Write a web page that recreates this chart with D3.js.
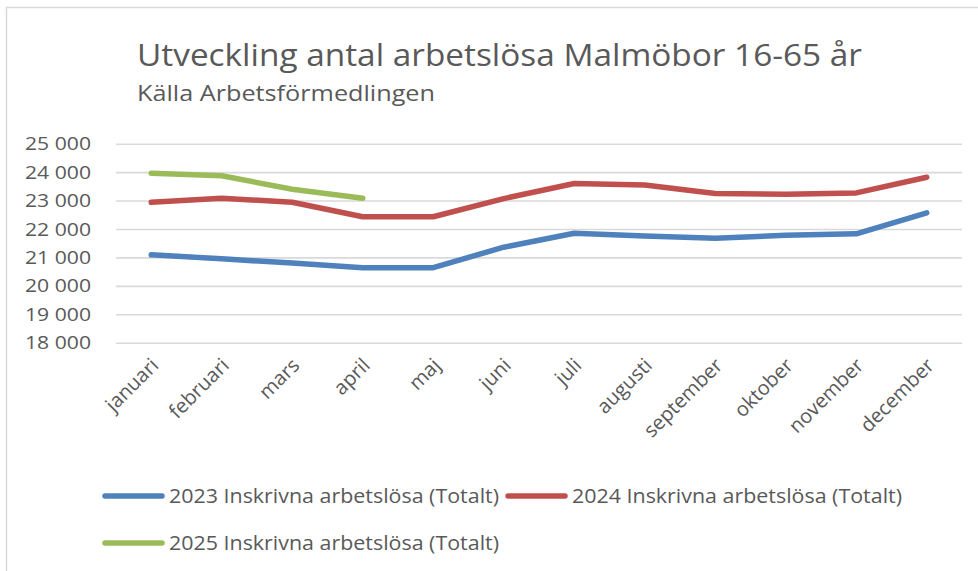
<!DOCTYPE html>
<html><head><meta charset="utf-8">
<script src="https://cdn.jsdelivr.net/npm/d3@7"></script>
<style>
html,body{margin:0;padding:0;background:#fff;}
svg{display:block;}
text{font-family:"Open Sans",sans-serif;fill:#595959;}
</style></head>
<body>
<svg id="c" width="978" height="571"></svg>
<script>
const months = ["januari","februari","mars","april","maj","juni","juli","augusti","september","oktober","november","december"];
const s2023 = [21090,20950,20800,20640,20640,21360,21850,21750,21670,21780,21830,22570];
const s2024 = [22940,23080,22940,22430,22430,23070,23600,23550,23250,23220,23270,23820];
const s2025 = [23960,23870,23400,23080];
const seriesNames = ["2023 Inskrivna arbetslösa (Totalt)","2024 Inskrivna arbetslösa (Totalt)","2025 Inskrivna arbetslösa (Totalt)"];
const seriesColors = ["#4F81BD","#C0504D","#9BBB59"];
const yTicks = [18000,19000,20000,21000,22000,23000,24000,25000];
const title = "Utveckling antal arbetslösa Malmöbor 16-65 år";
const subtitle = "Källa Arbetsförmedlingen";

const svg = d3.select("#c");
svg.append("path").attr("d","M6.5,571 V7.5 H978").attr("fill","none").attr("stroke","#D9D9D9").attr("stroke-width",1.5);

function fit(sel, w){ sel.attr("textLength", w).attr("lengthAdjust","spacingAndGlyphs"); }

fit(svg.append("text").attr("x",137).attr("y",66).attr("font-size",31).text(title), 725);
fit(svg.append("text").attr("x",137).attr("y",101).attr("font-size",21).text(subtitle), 298);

const x = d3.scalePoint().domain(months).range([116,962]).padding(0.5);
const y = d3.scaleLinear().domain([18000,25000]).range([342.7,143.7]);

const yAxis = svg.append("g").attr("transform","translate(116,0)")
  .call(d3.axisLeft(y).tickValues(yTicks).tickSize(-846).tickFormat(d => d3.format(",")(d).replace(","," ")).tickPadding(25));
yAxis.select(".domain").remove();
yAxis.selectAll(".tick line").attr("stroke","#D9D9D9").attr("stroke-width",1.6);
yAxis.selectAll(".tick text").attr("font-size",19).attr("fill","#595959")
  .style("font-family",'"Open Sans",sans-serif')
  .attr("textLength",66).attr("lengthAdjust","spacingAndGlyphs");

const xAxis = svg.append("g").attr("transform","translate(0,342.7)")
  .call(d3.axisBottom(x).tickSize(0));
xAxis.select(".domain").remove();
xAxis.selectAll(".tick text")
  .attr("font-size",20).attr("fill","#595959")
  .style("font-family",'"Open Sans",sans-serif')
  .attr("text-anchor","end")
  .attr("dy",null).attr("y",0)
  .attr("transform","translate(8,24) rotate(-45)");

const line = d3.line().x((d,i)=>x(months[i])).y(d=>y(d));
[s2023,s2024,s2025].forEach((s,k)=>{
  svg.append("path").datum(s).attr("d",line).attr("fill","none")
    .attr("stroke",seriesColors[k]).attr("stroke-width",5.5)
    .attr("stroke-linejoin","round").attr("stroke-linecap","round");
});

const legendPos = [[105,496],[508,496],[105,543]];
seriesNames.forEach((n,k)=>{
  const [lx,ly] = legendPos[k];
  svg.append("line").attr("x1",lx).attr("x2",lx+57).attr("y1",ly).attr("y2",ly)
    .attr("stroke",seriesColors[k]).attr("stroke-width",5.5).attr("stroke-linecap","round");
  fit(svg.append("text").attr("x",lx+64).attr("y",ly+7).attr("font-size",20).text(n), 330);
});
</script>
</body></html>
